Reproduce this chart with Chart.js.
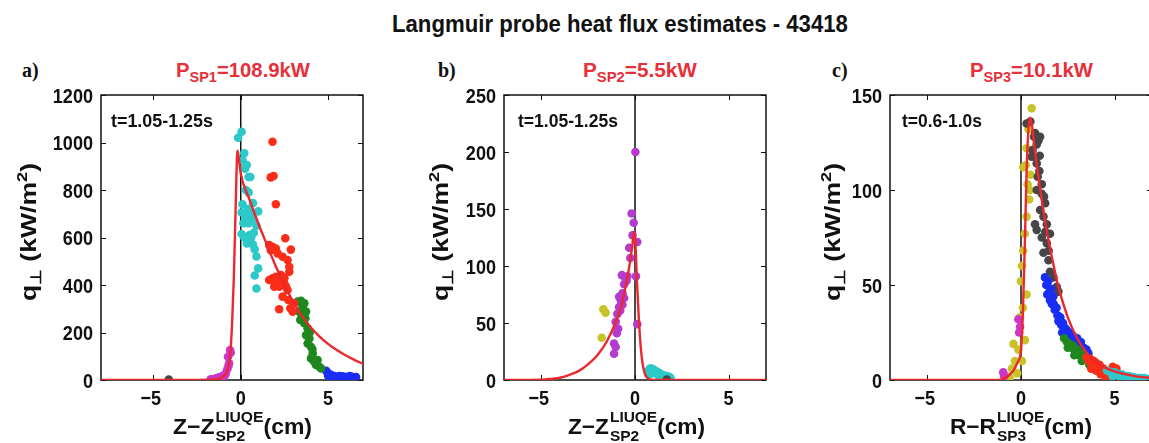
<!DOCTYPE html>
<html>
<head>
<meta charset="utf-8">
<script src="https://cdn.jsdelivr.net/npm/chart.js@4.4.1/dist/chart.umd.min.js"></script>
<style>
  html, body { margin: 0; padding: 0; background: #fff; overflow: hidden; width: 1149px; height: 443px; }
  body { position: relative; font-family: "Liberation Sans", Arial, sans-serif; color: #111; }
  .abs { position: absolute; white-space: nowrap; line-height: 1; transform-origin: left top; }
  canvas { position: absolute; }
  #title { font-weight: bold; font-size: 23px; }
  .tag { font-family: "Liberation Serif", "Times New Roman", serif; font-weight: bold; font-size: 20px; }
  .pw { color: #e8303a; font-weight: bold; font-size: 21px; }
  .pw sub { font-size: 15px; vertical-align: -5px; line-height: 0; }
  .ytitle { font-weight: bold; font-size: 22px; transform-origin: center center; }
  .ytitle sub { font-size: 15px; vertical-align: -5px; line-height: 0; }
  .ytitle sup { font-size: 15px; vertical-align: 9px; line-height: 0; }
  .xtitle { font-weight: bold; font-size: 22px; }
  .ss { display: inline-block; font-size: 15px; line-height: 19px; vertical-align: baseline; position: relative; top: 7px; margin-left: 1px; }
  .ss span { display: block; }
  .tw { font-weight: bold; font-size: 18px; }
</style>
</head>
<body>
<div id="title" class="abs fit" data-w="456" style="left:392px;top:13px">Langmuir probe heat flux estimates - 43418</div>

<div class="abs tag" style="left:22px;top:60px">a)</div>
<div class="abs tag" style="left:438px;top:60px">b)</div>
<div class="abs tag" style="left:832px;top:60px">c)</div>

<div class="abs pw fit" data-w="134" style="left:176px;top:59px">P<sub>SP1</sub>=108.9kW</div>
<div class="abs pw fit" data-w="114" style="left:583px;top:59px">P<sub>SP2</sub>=5.5kW</div>
<div class="abs pw fit" data-w="123" style="left:970px;top:59px">P<sub>SP3</sub>=10.1kW</div>

<canvas id="ca"></canvas>
<canvas id="cb"></canvas>
<canvas id="cc"></canvas>

<div class="abs ytitle" data-w="138" style="left:29px;top:232px">q<sub>⊥</sub> (kW/m<sup>2</sup>)</div>
<div class="abs ytitle" data-w="138" style="left:441px;top:232px">q<sub>⊥</sub> (kW/m<sup>2</sup>)</div>
<div class="abs ytitle" data-w="138" style="left:833px;top:232px">q<sub>⊥</sub> (kW/m<sup>2</sup>)</div>

<div class="abs xtitle fit" data-w="139" style="left:173px;top:400px">Z−Z<span class="ss"><span>LIUQE</span><span>SP2</span></span>(cm)</div>
<div class="abs xtitle fit" data-w="137" style="left:568px;top:400px">Z−Z<span class="ss"><span>LIUQE</span><span>SP2</span></span>(cm)</div>
<div class="abs xtitle fit" data-w="142" style="left:950px;top:400px">R−R<span class="ss"><span>LIUQE</span><span>SP3</span></span>(cm)</div>

<div class="abs tw fit" data-w="102" style="left:111px;top:112px">t=1.05-1.25s</div>
<div class="abs tw fit" data-w="100" style="left:518px;top:112px">t=1.05-1.25s</div>
<div class="abs tw fit" data-w="80" style="left:902px;top:112px">t=0.6-1.0s</div>

<script>
// ---- shared axis ticks ----
const xTicks = [-5, 0, 5];

// ---- panel a: SP1, t=1.05-1.25s ----
const a_xRange = [-8, 7];
const a_yTicks = [0, 200, 400, 600, 800, 1000, 1200];
const a_cyan = [[-0.15,1020],[0.05,1045],[0.2,955],[0.1,925],[0.35,905],[0.25,890],[0.45,855],[0.55,855],[0.3,800],[0.45,790],[0.7,745],[1.0,710],[0.1,740],[0.05,705],[0.35,700],[0.25,680],[0.7,680],[0.45,660],[0.9,650],[0.05,615],[0.5,610],[0.35,575],[0.7,570],[0.8,550],[0.9,520],[1.0,470],[0.8,440],[0.9,385],[0.2,600],[0.6,600],[0.4,720],[0.6,700],[0.15,660],[0.75,620]];
const a_red = [[1.82,1003],[1.72,853],[1.88,859],[2.01,740],[1.63,568],[1.82,561],[2.01,554],[2.55,597],[2.87,549],[1.72,547],[2.11,533],[2.4,519],[2.68,505],[2.78,477],[2.78,456],[1.63,421],[1.82,428],[2.01,435],[2.3,442],[2.49,407],[2.11,414],[2.59,393],[2.68,379],[2.4,351],[2.72,337],[2.84,302],[2.2,298],[3.06,323],[2.97,288],[1.92,393],[2.2,393],[2.3,410],[2.5,430],[1.9,415]];
const a_green = [[3.26,330],[3.45,334],[3.64,323],[3.35,288],[3.54,309],[3.74,288],[3.41,253],[3.64,239],[3.83,218],[3.74,189],[3.93,175],[3.83,154],[4.02,140],[4.12,112],[4.02,91],[4.21,77],[4.31,63],[4.5,56],[4.6,49],[4.4,84],[3.5,270],[3.7,260],[3.95,200],[4.1,130]];
const a_blue = [[4.89,39],[4.98,30],[5.08,22],[5.17,22],[5.36,17],[5.56,12],[5.65,17],[5.94,14],[6.23,17],[6.42,12],[6.1,10],[5.8,16],[6.35,14],[5.0,18],[5.3,12],[6.6,12]];
const a_magenta = [[-1.72,3],[-1.63,2],[-1.44,6],[-1.25,11],[-1.05,17],[-1.0,14],[-0.86,28],[-0.77,45],[-0.67,70],[-0.73,98],[-0.61,126],[-0.57,115],[-1.5,4],[-1.35,8],[-0.9,20],[-0.7,60]];
const a_gray = [[-4.12,2]];
const a_fit = [[-8,0],[-3,0],[-1.5,2],[-1.2,6],[-1.0,15],[-0.8,35],[-0.6,110],[-0.5,230],[-0.4,420],[-0.3,700],[-0.22,930],[-0.18,965],[-0.12,940],[0,870],[0.5,760],[1,660],[1.5,570],[2,480],[2.5,400],[3,330],[3.5,270],[4,222],[4.5,184],[5,152],[5.5,126],[6,104],[6.5,85],[7,68]];

// ---- panel b: SP2, t=1.05-1.25s ----
const b_xRange = [-7, 7];
const b_yTicks = [0, 50, 100, 150, 200, 250];
const b_magenta = [[0.02,200],[-0.18,146],[-0.07,138],[-0.13,127],[0.12,121],[-0.31,116],[-0.25,107],[-0.4,91],[0.05,91],[-0.49,88],[-0.58,84],[-0.67,76],[-0.76,70],[-0.58,72],[-0.85,64],[-0.79,61],[-0.94,58],[-0.67,66],[-1.03,51],[-0.9,45],[-0.97,41],[-1.12,32],[-1.03,29],[-1.12,23],[0.12,49],[-0.85,73],[-0.7,92],[-0.45,87]];
const b_olive = [[-1.69,62],[-1.57,59],[-1.78,37]];
const b_cyan = [[0.7,8],[0.8,10],[0.9,10],[1.0,9],[1.1,8],[1.2,7],[1.3,6],[1.4,5],[1.5,4],[1.6,4],[1.7,3],[1.8,3],[1.9,2],[0.75,5],[0.95,6],[1.25,4],[1.55,2],[1.35,3]];
const b_gray = [[1.7,0.5]];
const b_fit = [[-7,0],[-5,0.3],[-4.5,1],[-4,2],[-3.5,4.5],[-3,8],[-2.5,14],[-2,22],[-1.5,34],[-1,52],[-0.75,64],[-0.5,82],[-0.3,100],[-0.15,117],[-0.05,130],[0,125],[0.05,110],[0.1,88],[0.2,55],[0.3,30],[0.4,15],[0.5,7],[0.6,3],[0.8,0.5],[1.0,0],[7,0]];

// ---- panel c: SP3, t=0.6-1.0s ----
const c_xRange = [-7, 7];
const c_yTicks = [0, 50, 100, 150];
const c_gray = [[0.3,135],[0.75,130],[1.02,128],[0.93,126],[0.84,124],[0.62,121],[0.57,117.5],[0.84,114],[0.98,110],[0.89,107],[1.11,103],[0.84,100],[1.11,98],[1.23,96.5],[1.29,93],[1.02,89.5],[1.2,86],[0.75,82],[0.84,79],[1.38,82],[1.55,77],[1.11,75],[1.38,72],[1.48,68],[1.2,67],[1.47,63],[1.55,57],[1.73,54],[1.91,49],[2.0,46.5],[1.73,44],[0.7,128],[0.5,136],[1.0,118],[1.3,78]];
const c_olive = [[0.57,143],[0.4,132],[0.3,122],[0.25,113],[0.12,112],[0.5,108],[0.35,103],[0.48,100],[0.44,95],[0.3,86],[0.2,77],[0.12,68],[0.05,60],[0.0,52],[0.3,45],[-0.05,33],[0.21,21],[-0.14,16],[-0.32,10],[-0.48,6],[-0.21,3.5],[-0.75,2],[-0.4,19],[0.1,38],[-0.6,1],[0.05,10]];
const c_magenta = [[-0.14,32],[-0.05,28],[-0.95,4],[-0.9,2],[-0.1,25]];
const c_blue = [[1.28,54],[1.35,50],[1.45,52],[1.5,46],[1.6,48],[1.55,42],[1.7,44],[1.75,40],[1.8,37],[1.9,38],[1.95,34],[2.0,31],[2.1,33],[2.15,29],[2.25,30],[2.3,26],[2.4,27],[2.5,24],[2.6,25],[2.7,22],[2.8,23],[2.9,21],[3.0,22],[3.1,19],[3.2,20],[3.35,17],[3.5,16],[3.6,14],[1.4,45],[1.65,40],[2.2,25],[2.55,21],[3.0,18]];
const c_green = [[2.3,22],[2.45,20],[2.6,19],[2.7,17],[2.8,18],[2.9,15],[3.0,16],[3.1,13],[3.2,14],[3.3,12],[3.4,13],[3.5,11],[3.6,10],[3.7,11],[3.8,9],[3.9,8],[4.0,9],[4.1,7],[4.2,6],[2.5,17],[2.85,13],[3.25,10],[3.65,8],[4.05,5]];
const c_red = [[3.5,12],[3.6,10],[3.7,11],[3.8,9],[3.9,10],[4.0,8],[4.1,7],[4.2,8],[4.3,5],[4.4,6],[4.5,4],[4.6,3],[4.7,2],[3.75,6],[4.0,5],[4.25,3],[4.9,7],[5.1,6],[4.5,2]];
const c_cyan = [[4.6,5],[4.8,4],[5.0,4],[5.2,3],[5.4,3],[5.6,2],[5.8,2],[6.0,1.5],[6.2,1],[6.4,1],[6.6,1],[6.8,0.5],[7.0,0.5],[4.9,2],[5.3,1.5],[5.7,1],[6.1,0.5]];
const c_fit = [[-7,0],[-1.2,0],[-1,0.5],[-0.7,2],[-0.4,5],[-0.2,9],[0,16],[0.1,35],[0.2,70],[0.3,110],[0.4,132],[0.5,138],[0.6,133],[0.75,120],[1,102],[1.25,86],[1.5,72],[1.75,60],[2,49],[2.5,33],[3,22],[3.5,14.5],[4,9.5],[4.5,6.5],[5,4.5],[5.5,3.2],[6,2.2],[6.5,1.5],[7,1]];

// ---- colours ----
const COL = {
  cyan: 'rgb(45,200,200)', red: 'rgb(250,45,25)', green: 'rgb(30,135,30)',
  blue: 'rgb(25,45,245)', magenta: 'rgb(205,55,200)', purple: 'rgb(180,60,205)',
  gray: 'rgb(70,70,70)', olive: 'rgb(200,195,40)', fit: 'rgb(235,40,45)'
};

const FONT = '"Liberation Sans", Arial, sans-serif';
const TICK_PX = 21, TICK_SX = 0.86;          // condensed bold tick labels
const PLOT_W = 262, PLOT_H = 285, Y_W = 62, X_H = 34, PAD_T = 18, PAD_R = 6;

const toXY = arr => arr.map(([x, y]) => ({ x, y }));
const dots = (pts, color) => ({
  data: toXY(pts), backgroundColor: color, borderColor: color, borderWidth: 0,
  pointRadius: 4.3, pointHoverRadius: 4.3, order: 2
});
const fitLine = pts => ({
  data: toXY(pts), showLine: true, borderColor: COL.fit, borderWidth: 2.4,
  pointRadius: 0, cubicInterpolationMode: 'monotone', order: 0
});
const zeroLine = yMax => ({
  data: [{ x: 0, y: 0 }, { x: 0, y: yMax }], showLine: true, borderColor: '#111',
  borderWidth: 1.5, pointRadius: 0, order: 5
});

// box with inward tick marks on all four sides, plus condensed tick labels
const frame = {
  id: 'frame',
  beforeDatasetsDraw(chart) {
    const { ctx, chartArea: { left, right, top, bottom }, scales: { x, y } } = chart;
    ctx.save();
    ctx.strokeStyle = '#111';
    ctx.lineWidth = 1.5;
    ctx.strokeRect(left, top, right - left, bottom - top);
    ctx.lineWidth = 1;
    const L = 5;
    ctx.beginPath();
    x.ticks.forEach(t => {
      const px = Math.round(x.getPixelForValue(t.value)) + 0.5;
      ctx.moveTo(px, bottom); ctx.lineTo(px, bottom - L);
      ctx.moveTo(px, top); ctx.lineTo(px, top + L);
    });
    y.ticks.forEach(t => {
      const py = Math.round(y.getPixelForValue(t.value)) + 0.5;
      ctx.moveTo(left, py); ctx.lineTo(left + L, py);
      ctx.moveTo(right, py); ctx.lineTo(right - L, py);
    });
    ctx.stroke();
    ctx.restore();
  },
  afterDraw(chart) {
    const { ctx, chartArea: { left, bottom }, scales: { x, y } } = chart;
    ctx.save();
    ctx.fillStyle = '#111';
    ctx.font = `bold ${TICK_PX}px ${FONT}`;
    ctx.textBaseline = 'alphabetic';
    const cap = TICK_PX * 0.72;
    y.ticks.forEach(t => {
      const py = y.getPixelForValue(t.value);
      ctx.save();
      ctx.translate(left - 8, py + cap / 2);
      ctx.scale(TICK_SX, 1);
      ctx.textAlign = 'right';
      ctx.fillText(String(t.value), 0, 0);
      ctx.restore();
    });
    x.ticks.forEach(t => {
      const px = x.getPixelForValue(t.value);
      const s = t.value < 0 ? '−' + Math.abs(t.value) : String(t.value);
      ctx.save();
      ctx.translate(px, bottom + 25);
      ctx.scale(TICK_SX, 1);
      ctx.textAlign = 'center';
      ctx.fillText(s, t.value < 0 ? -3 : 0, 0);
      ctx.restore();
    });
    ctx.restore();
  }
};

function panel(id, plotLeft, plotTop, xRange, yTicks, datasets) {
  const cv = document.getElementById(id);
  cv.width = Y_W + PLOT_W + PAD_R;
  cv.height = PAD_T + PLOT_H + X_H;
  const yMax = yTicks[yTicks.length - 1];
  const chart = new Chart(cv, {
    type: 'scatter',
    data: { datasets: [...datasets, zeroLine(yMax)] },
    options: {
      responsive: false, animation: false, devicePixelRatio: 1,
      layout: { padding: { top: PAD_T, right: PAD_R, left: 0, bottom: 0 } },
      plugins: { legend: { display: false }, tooltip: { enabled: false } },
      scales: {
        x: {
          type: 'linear', min: xRange[0], max: xRange[1],
          grid: { display: false, drawTicks: false }, border: { display: false },
          afterBuildTicks: s => { s.ticks = xTicks.map(v => ({ value: v })); },
          afterFit: s => { s.height = X_H; },
          ticks: { display: false }
        },
        y: {
          type: 'linear', min: 0, max: yMax,
          grid: { display: false, drawTicks: false }, border: { display: false },
          afterBuildTicks: s => { s.ticks = yTicks.map(v => ({ value: v })); },
          afterFit: s => { s.width = Y_W; },
          ticks: { display: false }
        }
      }
    },
    plugins: [frame]
  });
  cv.style.left = (plotLeft - chart.chartArea.left) + 'px';
  cv.style.top = (plotTop - chart.chartArea.top) + 'px';
  return chart;
}

panel('ca', 101, 95, a_xRange, a_yTicks, [
  dots(a_gray, COL.gray), dots(a_magenta, COL.magenta), dots(a_cyan, COL.cyan),
  dots(a_red, COL.red), dots(a_green, COL.green), dots(a_blue, COL.blue), fitLine(a_fit)
]);
panel('cb', 504, 95, b_xRange, b_yTicks, [
  dots(b_gray, COL.gray), dots(b_cyan, COL.cyan), dots(b_olive, COL.olive),
  dots(b_magenta, COL.purple), fitLine(b_fit)
]);
panel('cc', 890, 95, c_xRange, c_yTicks, [
  dots(c_cyan, COL.cyan), dots(c_red, COL.red), dots(c_green, COL.green), dots(c_blue, COL.blue),
  dots(c_gray, COL.gray), dots(c_magenta, COL.magenta), dots(c_olive, COL.olive), fitLine(c_fit)
]);

// squeeze text blocks horizontally to their set widths (condensed lettering)
document.querySelectorAll('.fit').forEach(el => {
  const w = el.getBoundingClientRect().width;
  el.style.transform = `scaleX(${(+el.dataset.w / w).toFixed(3)})`;
});
document.querySelectorAll('.ytitle').forEach(el => {
  const w = el.getBoundingClientRect().width;
  const s = (+el.dataset.w / w).toFixed(3);
  el.style.transform = `translate(-50%, -50%) rotate(-90deg) scaleX(${s})`;
});
</script>
</body>
</html>
